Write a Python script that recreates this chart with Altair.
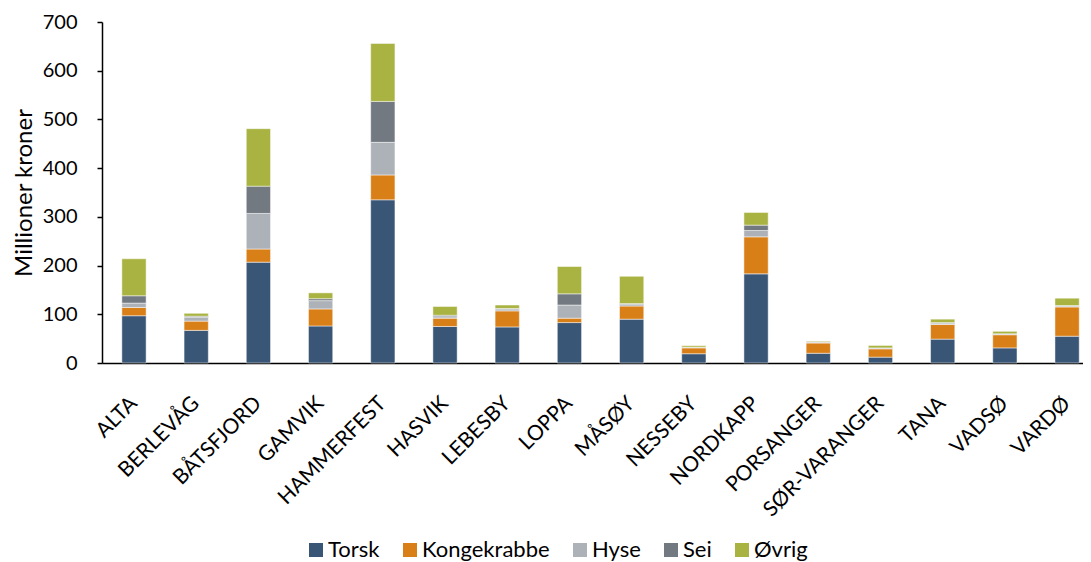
import altair as alt
import pandas as pd

kommuner = ["ALTA", "BERLEVÅG", "BÅTSFJORD", "GAMVIK", "HAMMERFEST", "HASVIK",
            "LEBESBY", "LOPPA", "MÅSØY", "NESSEBY", "NORDKAPP", "PORSANGER",
            "SØR-VARANGER", "TANA", "VADSØ", "VARDØ"]
arter = ["Torsk", "Kongekrabbe", "Hyse", "Sei", "Øvrig"]
farger = ["#3A5676", "#D97F18", "#ADB2B8", "#727980", "#A9B342"]

torsk = [97, 67, 207, 76, 335, 75, 74, 83, 90, 19, 183, 20, 12, 49, 31, 55]
kongekrabbe = [17, 19, 27, 35, 51, 17, 33, 9, 27, 12, 76, 21, 17, 30, 27, 60]
hyse = [9, 8, 73, 17, 67, 3, 4, 27, 3, 1, 13, 2, 1, 2, 1, 2]
sei = [15, 2, 56, 4, 84, 3, 1, 23, 2, 0.5, 11, 0.5, 1, 2, 1, 1]
ovrig = [76, 6, 118, 12, 119, 18, 7, 56, 56, 3, 26, 1.5, 5, 7, 5, 15]

serier = [torsk, kongekrabbe, hyse, sei, ovrig]
rows = []
for i, (art, vals) in enumerate(zip(arter, serier)):
    for k, v in zip(kommuner, vals):
        rows.append({"kommune": k, "art": art, "verdi": v, "ord": i})
df = pd.DataFrame(rows)

FONT = "Lato"

chart = alt.Chart(df).mark_bar(stroke="white", strokeWidth=0.6, strokeOpacity=0.8).encode(
    x=alt.X("kommune:N", sort=kommuner,
            scale=alt.Scale(paddingInner=0.61, paddingOuter=0.19, align=0.84),
            axis=alt.Axis(title=None, labelAngle=-45, labelAlign="right",
                          labelBaseline="middle", labelPadding=37, ticks=False,
                          labelFont=FONT, labelFontSize=21, labelColor="#000000",
                          domainColor="#000000", domainWidth=1.5, labelLimit=300)),
    y=alt.Y("verdi:Q", stack="zero",
            scale=alt.Scale(domain=[0, 700], nice=False),
            axis=alt.Axis(title="Millioner kroner", values=[0, 100, 200, 300, 400, 500, 600, 700],
                          grid=False, tickSize=5, tickColor="#000000", tickWidth=1.5,
                          domainColor="#000000", domainWidth=1.5,
                          labelFont=FONT, labelFontSize=20, labelColor="#000000", labelPadding=20,
                          titleFont=FONT, titleFontSize=24, titleFontWeight="normal",
                          titleColor="#000000", titlePadding=6)),
    color=alt.Color("art:N", sort=arter,
                    scale=alt.Scale(domain=arter, range=farger),
                    legend=alt.Legend(title=None, orient="none", direction="horizontal",
                                      legendX=203, legendY=517,
                                      symbolType="square", symbolSize=196, symbolStrokeWidth=0,
                                      labelFont=FONT, labelFontSize=22, labelColor="#000000",
                                      labelOffset=1, columnPadding=19)),
    order=alt.Order("ord:Q", sort="ascending"),
).properties(
    width=981, height=341,
    autosize=alt.AutoSizeParams(type="none"),
    padding={"left": 94, "top": 14, "right": 0, "bottom": 199},
).configure_view(stroke=None)

chart.save("out.html", embed_options={"renderer": "svg", "actions": False})
